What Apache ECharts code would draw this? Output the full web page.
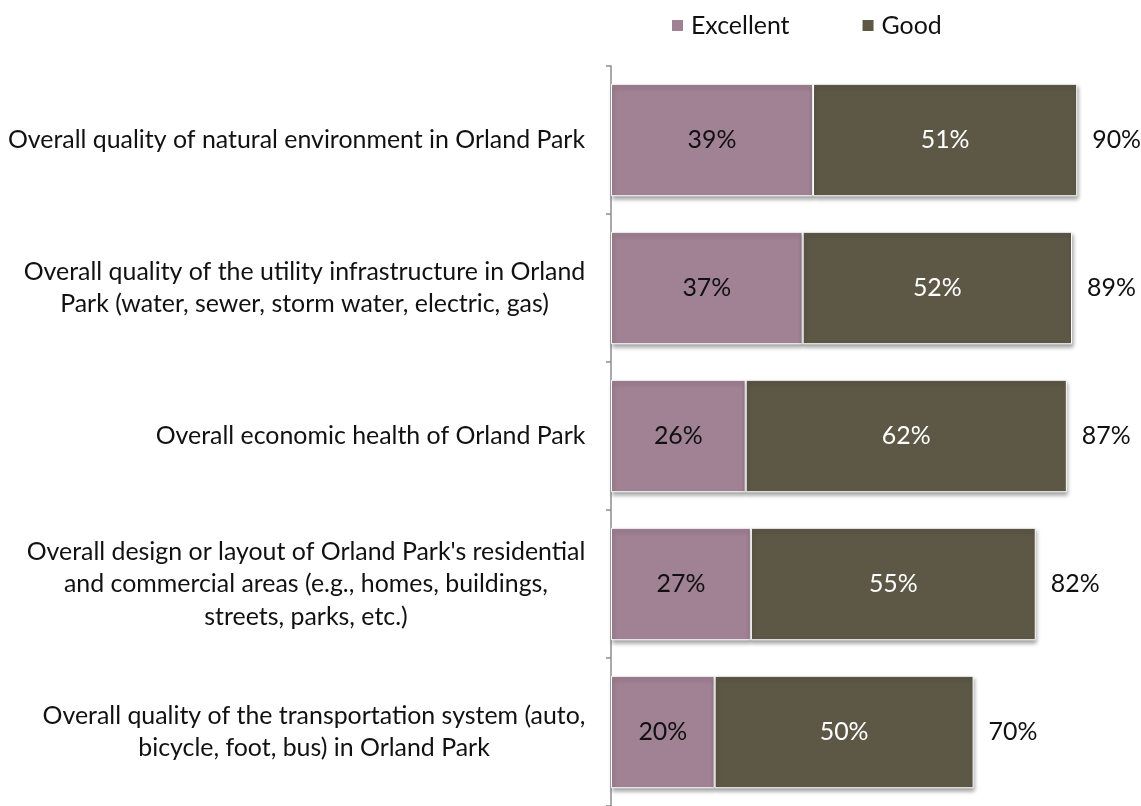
<!DOCTYPE html>
<html>
<head>
<meta charset="utf-8">
<script src="https://cdn.jsdelivr.net/npm/echarts@6/dist/echarts.min.js"></script>
<style>
html,body{margin:0;padding:0;background:#fff;}
#chart{width:1141px;height:806px;}
</style>
</head>
<body>
<div id="chart"></div>
<script>
const categories = [
  "Overall quality of natural environment in Orland Park",
  "Overall quality of the utility infrastructure in Orland\nPark (water, sewer, storm water, electric, gas)",
  "Overall economic health of Orland Park",
  "Overall design or layout of Orland Park's residential\nand commercial areas (e.g., homes, buildings,\nstreets, parks, etc.)",
  "Overall quality of the transportation system (auto,\nbicycle, foot, bus) in Orland Park"
];
const excellent = [39, 37, 26, 27, 20];
const good = [51, 52, 62, 55, 50];
const totals = [90, 89, 87, 82, 70];
const seriesNames = ["Excellent", "Good"];

const FONT = 'Lato, "Open Sans", sans-serif';

// fit font size so the first category line has the reference width (~578px)
const cv = document.createElement('canvas').getContext('2d');
cv.font = '20px ' + FONT;
const FS = Math.round(20 * 578 / cv.measureText(categories[0]).width * 10) / 10;
cv.font = FS + 'px ' + FONT;
const LH = 32.5;

const rich = {};
categories.forEach((c, i) => {
  const w = Math.max(...c.split('\n').map(l => cv.measureText(l).width));
  rich['c' + i] = { width: Math.ceil(w) + 1, align: 'center', fontSize: FS, fontFamily: FONT, color: '#111', lineHeight: LH };
});

const chart = echarts.init(document.getElementById('chart'), null, { renderer: 'canvas' });
const shadow = { shadowBlur: 4, shadowOffsetX: 1, shadowOffsetY: 3, shadowColor: 'rgba(0,0,0,0.35)' };
chart.setOption({
  animation: false,
  textStyle: { fontFamily: FONT },
  legend: {
    data: seriesNames,
    left: 670, top: 13,
    icon: 'rect', itemWidth: 13, itemHeight: 13, itemGap: 71,
    padding: 0,
    textStyle: { fontSize: FS, color: '#111', fontFamily: FONT, padding: [0, 0, 0, 2] }
  },
  grid: { left: 611, right: 12, top: 66, bottom: 0, containLabel: false },
  xAxis: { type: 'value', min: 0, max: 100, show: false },
  yAxis: {
    type: 'category', data: categories, inverse: true,
    axisLine: { show: true, lineStyle: { color: '#8c8c8c', width: 1.5 } },
    axisTick: { show: true, length: 5, lineStyle: { color: '#8c8c8c', width: 1.5 } },
    axisLabel: {
      margin: 25, align: 'right',
      formatter: (v, i) => v.split('\n').map(l => '{c' + i + '|' + l + '}').join('\n'),
      rich: rich
    }
  },
  series: [
    {
      name: seriesNames[0], type: 'bar', stack: 'a', data: excellent, barCategoryGap: '24%',
      itemStyle: Object.assign({ color: '#a08294', borderColor: '#ffffff', borderWidth: 1 }, shadow),
      label: { show: true, position: 'inside', formatter: '{c}%', color: '#111', fontSize: FS, fontFamily: FONT }
    },
    {
      name: seriesNames[1], type: 'bar', stack: 'a', data: good,
      itemStyle: Object.assign({ color: '#5d5846', borderColor: '#ffffff', borderWidth: 1 }, shadow),
      label: { show: true, position: 'inside', formatter: '{c}%', color: '#ffffff', fontSize: FS, fontFamily: FONT }
    },
    {
      name: 'Total', type: 'bar', stack: 'a', data: totals.map(() => 0),
      itemStyle: { color: 'rgba(0,0,0,0)' },
      label: { show: true, position: 'right', distance: 15, formatter: p => totals[p.dataIndex] + '%', color: '#111', fontSize: FS, fontFamily: FONT },
      tooltip: { show: false }
    }
  ]
});
</script>
</body>
</html>
